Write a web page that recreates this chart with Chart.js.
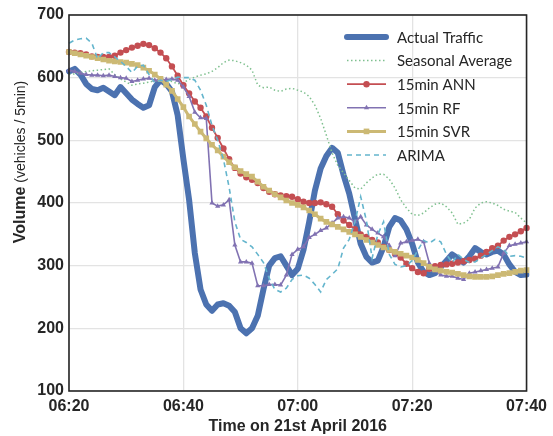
<!DOCTYPE html>
<html>
<head>
<meta charset="utf-8">
<script src="https://cdn.jsdelivr.net/npm/chart.js@4.4.1/dist/chart.umd.min.js"></script>
<style>
  html, body { margin: 0; padding: 0; background: #fff; }
  #wrap { width: 553px; height: 436px; }
</style>
</head>
<body>
<div id="wrap"><canvas id="chart" width="553" height="436"></canvas></div>
<script>
// one value per minute, 06:20 -> 07:40
const actualTraffic = [610, 614, 605, 590, 582, 580, 584, 578, 572, 585, 575, 565, 558, 552, 556, 585, 596, 590, 578, 540,
  470, 405, 320, 262, 238, 228, 238, 240, 236, 226, 200, 192, 200, 220, 262, 300, 312, 315, 300, 285,
  295, 325, 370, 420, 455, 475, 488, 480, 445, 415, 375, 335, 314, 305, 308, 330, 362, 376, 372, 358,
  335, 305, 290, 285, 288, 298, 308, 318, 312, 305, 315, 328, 322, 318, 322, 324, 318, 302, 290, 285, 286];

const seasonalAverage = [605, 606, 608, 610, 611, 612, 613, 614, 605, 598, 593, 588, 590, 591, 593, 595, 596, 595, 594, 590,
  592, 597, 601, 604, 606, 610, 616, 624, 628, 627, 624, 620, 612, 588, 584, 585, 580, 578, 582, 583,
  580, 577, 570, 556, 535, 508, 480, 460, 448, 436, 424, 422, 432, 440, 446, 446, 438, 424, 405, 392,
  382, 380, 384, 392, 398, 400, 394, 384, 366, 368, 374, 392, 400, 402, 400, 396, 390, 387, 385, 376, 368];

const annPred = [641, 640, 639, 637, 634, 633, 633, 633, 635, 640, 644, 648, 651, 654, 652, 647, 640, 631, 618, 603,
  588, 575, 562, 552, 538, 520, 504, 487, 470, 456, 447, 441, 437, 432, 424, 418, 414, 412, 411, 410,
  406, 402, 400, 400, 401, 398, 394, 382, 372, 365, 358, 350, 346, 341, 337, 330, 325, 319, 313, 303,
  296, 290, 288, 295, 299, 301, 302, 303, 305, 307, 309, 311, 316, 322, 328, 332, 340, 346, 350, 355, 360];

const rfPred = [612, 610, 607, 605, 604, 604, 603, 604, 602, 600, 599, 594, 596, 598, 599, 596, 596, 597, 598, 596,
  585, 570, 545, 536, 535, 400, 395, 397, 405, 333, 306, 306, 304, 268, 268, 270, 270, 269, 285, 318,
  326, 330, 345, 350, 356, 360, 368, 376, 378, 376, 370, 378, 365, 358, 352, 346, 332, 316, 336, 338,
  340, 342, 338, 304, 292, 285, 283, 283, 280, 278, 288, 290, 292, 294, 296, 298, 320, 332, 334, 336, 338];

const svrPred = [641, 639, 637, 635, 633, 631, 629, 627, 626, 625, 624, 622, 620, 616, 611, 605, 598, 589, 579, 566,
  553, 538, 526, 514, 503, 493, 484, 474, 465, 457, 451, 446, 442, 434, 426, 420, 414, 409, 404, 400,
  397, 393, 388, 382, 375, 370, 366, 362, 358, 354, 350, 346, 341, 337, 333, 329, 325, 322, 319, 316,
  313, 309, 304, 298, 294, 292, 290, 289, 287, 285, 283, 282, 282, 282, 283, 285, 287, 288, 290, 292, 293];

const arimaPred = [655, 660, 662, 663, 655, 630, 640, 640, 633, 626, 618, 608, 618, 620, 605, 592, 596, 594, 597, 601,
  600, 600, 596, 580, 556, 524, 500, 470, 425, 370, 342, 337, 330, 318, 305, 280, 262, 258, 264, 278,
  284, 285, 280, 270, 258, 278, 286, 295, 328, 342, 370, 410, 372, 312, 350, 370, 318, 302, 298, 300,
  308, 325, 340, 336, 342, 338, 318, 305, 318, 310, 305, 306, 312, 318, 324, 330, 326, 315, 316, 315, 312];

const yTicks = [100, 200, 300, 400, 500, 600, 700];

const timeLabels = actualTraffic.map(function (_, i) {
  var m = 20 + i;
  var h = 6 + Math.floor(m / 60);
  m = m % 60;
  return "0" + h + ":" + (m < 10 ? "0" : "") + m;
});

const tickFont = { family: "Liberation Sans", size: 16, weight: "bold" };

// legend drawn inside the plot, no frame, like the original
const innerLegend = {
  id: "innerLegend",
  afterDraw: function (chart) {
    var ctx = chart.ctx;
    var x0 = 347, x1 = 386, tx = 397, y = 37, step = 23.6;
    ctx.save();
    chart.data.datasets.forEach(function (ds) {
      ctx.strokeStyle = ds.borderColor;
      ctx.lineWidth = ds.borderWidth;
      ctx.lineCap = ds.borderCapStyle || "butt";
      ctx.setLineDash(ds.borderDash || []);
      ctx.beginPath();
      ctx.moveTo(x0, y);
      ctx.lineTo(x1, y);
      ctx.stroke();
      ctx.setLineDash([]);
      if (ds.pointRadius > 0) {
        ctx.fillStyle = ds.backgroundColor;
        Chart.helpers.drawPoint(ctx, {
          pointStyle: ds.pointStyle,
          radius: ds.pointRadius,
          rotation: 0,
          borderWidth: 0
        }, (x0 + x1) / 2, y);
      }
      ctx.fillStyle = "#262626";
      ctx.font = "15px Lato";
      ctx.textBaseline = "middle";
      ctx.fillText(ds.label, tx, y + 1);
      y += step;
    });
    ctx.restore();
  }
};

// frame around the plot area and the mixed-weight y title
const frameAndTitle = {
  id: "frameAndTitle",
  afterDraw: function (chart) {
    var ctx = chart.ctx;
    var a = chart.chartArea;
    ctx.save();
    ctx.strokeStyle = "#262626";
    ctx.lineWidth = 1.6;
    ctx.strokeRect(a.left, a.top, a.right - a.left, a.bottom - a.top);

    var bold = "bold 16px Liberation Sans";
    var normal = "14px Liberation Sans";
    var t1 = "Volume", t2 = " (vehicles / 5min)";
    ctx.font = bold;
    var w1 = ctx.measureText(t1).width;
    ctx.font = normal;
    var w2 = ctx.measureText(t2).width;
    ctx.translate(21, 162);
    ctx.rotate(-Math.PI / 2);
    ctx.fillStyle = "#262626";
    ctx.textBaseline = "middle";
    var start = -(w1 + w2) / 2;
    ctx.font = bold;
    ctx.fillText(t1, start, 0);
    ctx.font = normal;
    ctx.fillText(t2, start + w1, 0);
    ctx.restore();
  }
};

var ctx = document.getElementById("chart").getContext("2d");
var myChart = new Chart(ctx, {
  type: "line",
  data: {
    labels: timeLabels,
    datasets: [
      {
        label: "Actual Traffic",
        data: actualTraffic,
        borderColor: "#4c72b0",
        backgroundColor: "#4c72b0",
        borderWidth: 6,
        borderCapStyle: "round",
        borderJoinStyle: "round",
        pointRadius: 0,
        order: 6
      },
      {
        label: "Seasonal Average",
        data: seasonalAverage,
        borderColor: "#7fc08f",
        backgroundColor: "#7fc08f",
        borderWidth: 1.5,
        borderDash: [1.5, 2.5],
        pointRadius: 0,
        order: 5
      },
      {
        label: "15min ANN",
        data: annPred,
        borderColor: "#c44e52",
        backgroundColor: "#c44e52",
        borderWidth: 1.8,
        pointStyle: "circle",
        pointRadius: 3.2,
        pointBorderWidth: 0,
        order: 4
      },
      {
        label: "15min RF",
        data: rfPred,
        borderColor: "#8172b2",
        backgroundColor: "#8172b2",
        borderWidth: 1.6,
        pointStyle: "triangle",
        pointRadius: 3,
        pointBorderWidth: 0,
        order: 3
      },
      {
        label: "15min SVR",
        data: svrPred,
        borderColor: "#ccb974",
        backgroundColor: "#ccb974",
        borderWidth: 3,
        pointStyle: "rect",
        pointRadius: 4,
        pointBorderWidth: 0,
        order: 2
      },
      {
        label: "ARIMA",
        data: arimaPred,
        borderColor: "#64b5cd",
        backgroundColor: "#64b5cd",
        borderWidth: 1.6,
        borderDash: [5, 4],
        pointRadius: 0,
        order: 1
      }
    ]
  },
  options: {
    responsive: false,
    animation: false,
    layout: { padding: { top: 15, right: 26, left: 0, bottom: 0 } },
    elements: { line: { tension: 0 } },
    plugins: {
      legend: { display: false },
      tooltip: { enabled: false }
    },
    scales: {
      x: {
        offset: false,
        grid: { color: "#e3e3e3", lineWidth: 1.3, drawTicks: false },
        border: { display: false },
        ticks: {
          autoSkip: false,
          maxRotation: 0,
          padding: 6,
          color: "#262626",
          font: tickFont,
          callback: function (value, index) {
            return index % 20 === 0 ? timeLabels[index] : null;
          }
        },
        title: {
          display: true,
          text: "Time on 21st April 2016",
          color: "#262626",
          font: tickFont,
          padding: { top: 0, bottom: 0 }
        },
        afterFit: function (scale) { scale.height = 45; }
      },
      y: {
        min: 100,
        max: 700,
        grid: { color: "#e3e3e3", lineWidth: 1.3, drawTicks: false },
        border: { display: false },
        afterBuildTicks: function (scale) {
          scale.ticks = yTicks.map(function (v) { return { value: v }; });
        },
        ticks: {
          padding: 5,
          color: "#262626",
          font: tickFont
        },
        afterFit: function (scale) { scale.width = 69; }
      }
    }
  },
  plugins: [innerLegend, frameAndTitle]
});
</script>
</body>
</html>
